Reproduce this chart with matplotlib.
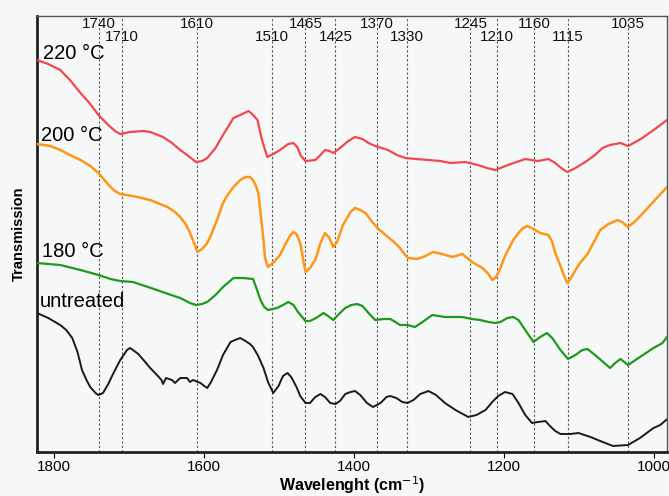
import matplotlib
matplotlib.use("Agg")
import matplotlib.pyplot as plt
import matplotlib.transforms as mtransforms

plt.rcParams["font.family"] = ["Liberation Sans", "DejaVu Sans"]

# peak positions marked on the chart (cm-1)
peaks_top = [1740, 1610, 1465, 1370, 1245, 1160, 1035]
peaks_low = [1710, 1510, 1425, 1330, 1210, 1115]

# FTIR spectra (wavenumber cm-1, transmission a.u.)
wn_220 = [1823, 1808, 1792, 1779, 1765, 1752, 1741, 1728, 1719, 1712, 1699, 1681,
          1672, 1655, 1643, 1632, 1621, 1611, 1603, 1596, 1585, 1575, 1561, 1552,
          1541, 1536, 1529, 1523, 1516, 1508, 1499, 1488, 1481, 1476, 1471, 1465,
          1452, 1445, 1439, 1433, 1428, 1419, 1408, 1399, 1389, 1381, 1372, 1355,
          1343, 1332, 1317, 1301, 1285, 1272, 1252, 1235, 1223, 1212, 1195, 1172,
          1155, 1141, 1132, 1124, 1116, 1105, 1092, 1079, 1069, 1059, 1045, 1035,
          1025, 1016, 999, 983]
tr_220 = [392, 388, 382, 372, 359, 348, 337, 327, 321, 318, 320, 321,
          320, 315, 309, 302, 296, 290, 291, 294, 304, 317, 334, 337,
          341, 338, 332, 312, 295, 298, 302, 308, 309, 305, 296, 291,
          292, 297, 302, 301, 299, 304, 311, 315, 313, 309, 306, 302,
          297, 294, 293, 292, 291, 289, 290, 287, 284, 282, 287, 293,
          291, 293, 289, 284, 280, 284, 290, 297, 304, 307, 309, 306,
          310, 314, 323, 332]

wn_200 = [1823, 1805, 1792, 1779, 1765, 1752, 1741, 1732, 1725, 1719, 1712, 1695,
          1672, 1659, 1649, 1639, 1632, 1624, 1619, 1613, 1609, 1603, 1597, 1592,
          1584, 1575, 1568, 1561, 1552, 1545, 1539, 1535, 1531, 1528, 1525, 1521,
          1519, 1515, 1507, 1499, 1491, 1485, 1481, 1477, 1472, 1468, 1465, 1459,
          1452, 1445, 1439, 1433, 1428, 1423, 1415, 1405, 1399, 1392, 1385, 1377,
          1369, 1355, 1347, 1339, 1332, 1328, 1316, 1305, 1295, 1283, 1269, 1256,
          1243, 1229, 1221, 1216, 1211, 1205, 1200, 1195, 1188, 1181, 1175, 1169,
          1161, 1152, 1141, 1136, 1132, 1125, 1120, 1116, 1111, 1105, 1099, 1089,
          1079, 1072, 1061, 1049, 1043, 1035, 1025, 1015, 999, 983]
tr_200 = [308, 306, 302, 297, 292, 286, 279, 271, 265, 261, 258, 256,
          252, 248, 245, 240, 235, 227, 219, 208, 200, 203, 208, 215,
          230, 249, 258, 265, 272, 275, 275, 272, 266, 259, 240, 212,
          194, 185, 190, 197, 209, 217, 220, 218, 209, 192, 180, 184,
          192, 209, 219, 214, 205, 210, 227, 240, 244, 242, 239, 231,
          224, 215, 210, 204, 197, 194, 193, 196, 200, 198, 195, 198,
          190, 184, 178, 172, 175, 184, 194, 202, 212, 219, 224, 226,
          223, 219, 217, 210, 199, 186, 176, 169, 174, 182, 189, 198,
          212, 222, 228, 232, 230, 225, 231, 239, 252, 265]

wn_180 = [1823, 1792, 1765, 1741, 1725, 1712, 1695, 1679, 1663, 1648, 1632, 1619,
          1611, 1603, 1596, 1585, 1575, 1561, 1548, 1535, 1531, 1525, 1520, 1515,
          1509, 1503, 1495, 1488, 1481, 1475, 1465, 1459, 1451, 1441, 1435, 1428,
          1419, 1412, 1404, 1396, 1389, 1381, 1372, 1361, 1352, 1345, 1339, 1329,
          1319, 1309, 1296, 1279, 1256, 1243, 1232, 1221, 1212, 1205, 1196, 1188,
          1181, 1172, 1161, 1152, 1143, 1136, 1125, 1115, 1105, 1096, 1089, 1079,
          1068, 1059, 1052, 1045, 1040, 1035, 1019, 1001, 989, 981]
tr_180 = [189, 187, 182, 177, 173, 171, 170, 166, 162, 158, 154, 149,
          147, 148, 150, 157, 165, 174, 174, 173, 165, 152, 145, 142,
          143, 144, 147, 150, 147, 140, 131, 131, 134, 139, 136, 132,
          139, 144, 147, 148, 146, 139, 132, 133, 133, 130, 127, 127,
          125, 130, 137, 135, 135, 133, 132, 130, 129, 130, 134, 135,
          132, 122, 110, 115, 119, 114, 102, 93, 97, 102, 103, 97,
          90, 84, 89, 93, 90, 87, 95, 104, 109, 117]

wn_raw = [1823, 1808, 1792, 1784, 1776, 1769, 1763, 1757, 1752, 1745, 1741, 1735,
          1728, 1721, 1712, 1703, 1699, 1695, 1688, 1681, 1672, 1663, 1657, 1655,
          1651, 1643, 1639, 1632, 1623, 1619, 1615, 1605, 1600, 1596, 1591, 1583,
          1575, 1565, 1559, 1552, 1545, 1539, 1535, 1528, 1521, 1515, 1508, 1501,
          1495, 1489, 1484, 1477, 1472, 1465, 1459, 1452, 1445, 1439, 1432, 1425,
          1419, 1412, 1405, 1399, 1392, 1383, 1375, 1365, 1357, 1352, 1344, 1336,
          1329, 1321, 1312, 1301, 1291, 1279, 1265, 1248, 1237, 1225, 1216, 1208,
          1199, 1189, 1181, 1172, 1163, 1155, 1145, 1139, 1132, 1125, 1112, 1101,
          1085, 1072, 1055, 1035, 1019, 1001, 992, 981]
tr_raw = [139, 134, 127, 122, 114, 100, 82, 72, 65, 59, 57, 59,
          68, 79, 92, 102, 104, 102, 98, 92, 84, 77, 72, 68,
          74, 72, 69, 74, 74, 70, 72, 69, 66, 64, 70, 82,
          97, 110, 112, 114, 111, 108, 105, 96, 84, 70, 59, 66,
          76, 79, 75, 65, 56, 49, 49, 55, 58, 55, 49, 48,
          51, 58, 60, 61, 57, 49, 45, 49, 55, 56, 54, 50,
          49, 52, 58, 61, 57, 49, 42, 35, 37, 42, 50, 56,
          60, 58, 49, 37, 29, 30, 31, 26, 21, 18, 18, 19,
          15, 11, 6, 7, 14, 24, 27, 34]

fig = plt.figure(figsize=(6.69, 4.96), dpi=100, facecolor="#f6f7f7")
ax = fig.add_axes([0.0553, 0.0887, 0.9417, 0.879], facecolor="#f6f7f7")

# dashed marker lines and their labels
trans = mtransforms.blended_transform_factory(ax.transData, ax.transAxes)
for p in peaks_top + peaks_low:
    ax.axvline(p, color="#555555", linestyle=(0, (2, 2)), linewidth=0.8, zorder=1)
for p in peaks_top:
    ax.text(p, 0.981, str(p), transform=trans, ha="center", va="center",
            fontsize=11, color="#111111")
for p in peaks_low:
    ax.text(p, 0.951, str(p), transform=trans, ha="center", va="center",
            fontsize=11, color="#111111")

ax.plot(wn_220, tr_220, color="#f2474f", linewidth=1.6, zorder=3)
ax.plot(wn_200, tr_200, color="#ff9618", linewidth=1.8, zorder=3)
ax.plot(wn_180, tr_180, color="#1d9a1d", linewidth=1.6, zorder=3)
ax.plot(wn_raw, tr_raw, color="#1a1a1a", linewidth=1.4, zorder=3)

# sample labels
ax.text(0.009, 0.915, "220 °C", transform=ax.transAxes, fontsize=14.5, va="center")
ax.text(0.006, 0.725, "200 °C", transform=ax.transAxes, fontsize=14.5, va="center")
ax.text(0.008, 0.461, "180 °C", transform=ax.transAxes, fontsize=14.5, va="center")
ax.text(0.004, 0.345, "untreated", transform=ax.transAxes, fontsize=14.5, va="center")

ax.set_xlim(1823, 983)
ax.set_ylim(0, 436)
ax.set_xticks([1800, 1600, 1400, 1200, 1000])
ax.tick_params(axis="x", direction="out", length=4, labelsize=11, pad=2)
ax.set_yticks([])

for side in ["left", "bottom"]:
    ax.spines[side].set_linewidth(2)
    ax.spines[side].set_color("#222222")
for side in ["top", "right"]:
    ax.spines[side].set_linewidth(1)
    ax.spines[side].set_color("#555555")

ax.set_xlabel("Wavelenght (cm$^{-1}$)", fontsize=11.5, fontweight="bold", labelpad=0)
ax.set_ylabel("Transmission", fontsize=10.5, fontweight="bold", labelpad=8)

fig.savefig("out.png", dpi=100, facecolor=fig.get_facecolor())
